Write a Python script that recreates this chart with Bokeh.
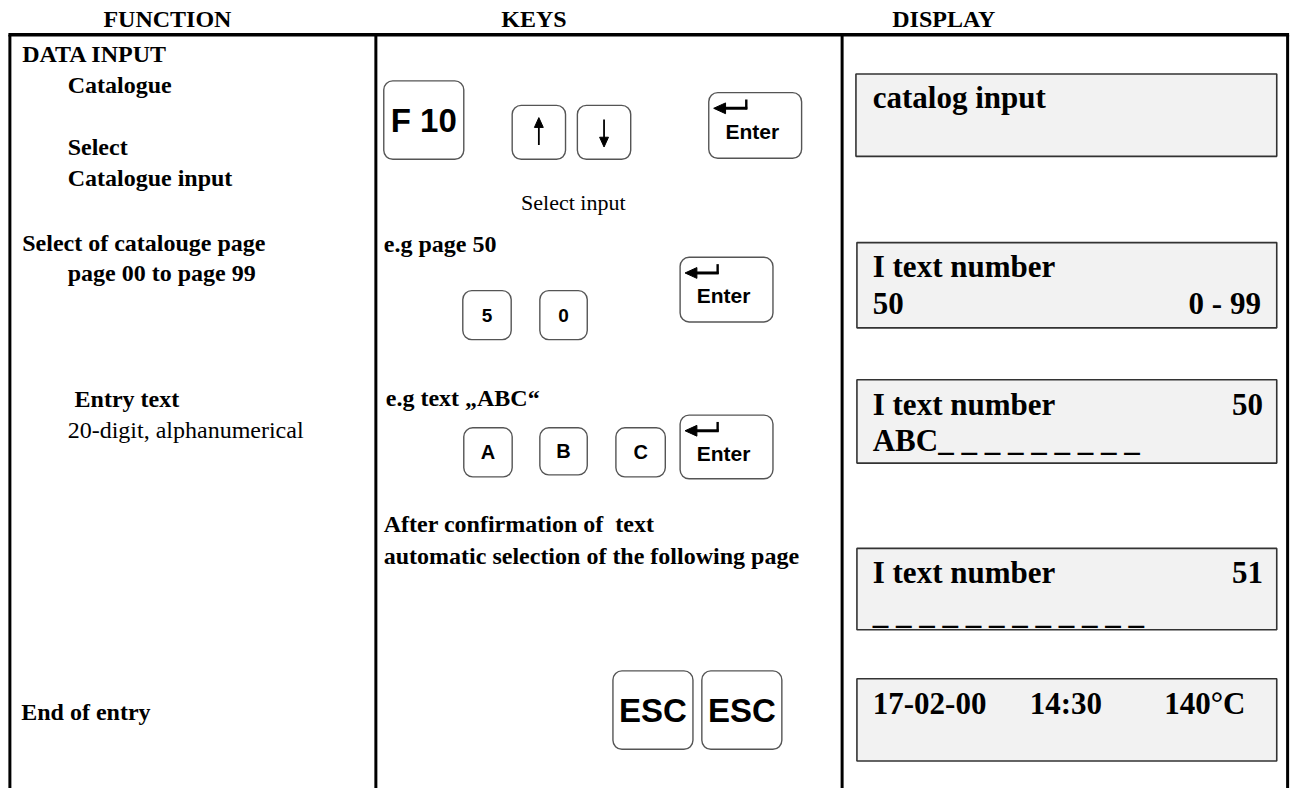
from bokeh.plotting import figure
from bokeh.models import Range1d
from bokeh.embed import file_html
from bokeh.resources import INLINE
from bokeh.core.properties import value

# ---------------- content ----------------
headers = ["FUNCTION", "KEYS", "DISPLAY"]
header_x = [169, 540, 955]

func_labels = ["DATA INPUT", "Catalogue", "Select", "Catalogue input",
               "Select of catalouge page", "page 00 to page 99",
               "Entry text", "End of entry"]
func_x = [22, 68, 68, 68, 22, 68, 75, 21]
func_y = [63, 95, 158, 190, 256, 287, 415, 735]
func_note = ["20-digit, alphanumerical"]
func_note_x = [68]
func_note_y = [447]

key_texts = ["e.g page 50", "e.g text \u201eABC\u201c", "After confirmation of\u00a0 text",
             "automatic selection of the following page"]
key_text_x = [388, 390, 388, 388]
key_text_y = [257, 414, 543, 575]
key_note = ["Select input"]
key_note_x = [527]
key_note_y = [214]

# keys: label, left, right, top, bottom, label font size
keys = [
    ("F 10", 388, 469, 82, 162, 33),
    ("up", 518, 572, 107, 162, 0),
    ("down", 584, 638, 107, 162, 0),
    ("Enter", 717, 811, 94, 161, 21),
    ("5", 468, 517, 296, 346, 19),
    ("0", 546, 594, 296, 346, 19),
    ("Enter", 688, 782, 262, 328, 21),
    ("A", 469, 518, 436, 486, 20),
    ("B", 546, 594, 436, 484, 20),
    ("C", 623, 673, 436, 486, 20),
    ("Enter", 688, 782, 423, 488, 21),
    ("ESC", 620, 701, 684, 764, 33),
    ("ESC", 710, 791, 684, 764, 33),
]

# display boxes: left, right, top, bottom
disp_boxes = [(866, 1292, 75, 159), (867, 1292, 247, 334), (867, 1292, 387, 472),
              (867, 1292, 559, 642), (867, 1292, 692, 776)]
disp_left_text = ["catalog input", "I text number", "50", "I text number",
                  "ABC_ _ _ _ _ _ _ _ _", "I text number", "_ _ _ _ _ _ _ _ _ _ _ _",
                  "17-02-00", "14:30", "140\u00b0C"]
disp_left_x = [883, 883, 883, 883, 883, 883, 883, 883, 1042, 1178]
disp_left_y = [110, 283, 320, 423, 460, 595, 637, 728, 728, 728]
disp_right_text = ["0 - 99", "50", "51"]
disp_right_x = [1276, 1278, 1278]
disp_right_y = [320, 423, 595]

# table lines
col_x = [9.5, 380, 852, 1303]
table_top = 35

# ---------------- figure ----------------
REF_W, REF_H = 1312, 804
W, H = 1296, 788
p = figure(width=W, height=H, x_range=Range1d(0, REF_W), y_range=Range1d(REF_H, 0),
           output_backend="svg", toolbar_location=None, min_border=0,
           x_axis_location=None, y_axis_location=None)
p.grid.visible = False
p.outline_line_color = None
p.background_fill_color = "white"
p.border_fill_color = "white"

SERIF = value("Liberation Serif")
SANS = value("Liberation Sans")
K = 0.36  # baseline correction factor for the svg text renderer


def base(ys, fs):
    return [y - K * fs for y in ys]


# table frame
p.segment(x0=[col_x[0] - 1.5], y0=[table_top], x1=[col_x[-1] + 1.5], y1=[table_top],
          line_color="black", line_width=3.5)
p.segment(x0=col_x, y0=[table_top] * len(col_x), x1=col_x, y1=[REF_H + 20] * len(col_x),
          line_color="black", line_width=3)

# headers
p.text(x=header_x, y=base([28] * 3, 24), text=headers, text_font=SERIF, text_font_style="bold",
       text_font_size="24px", text_align="center", text_baseline="alphabetic", text_color="black")

# function column
p.text(x=func_x, y=base(func_y, 24), text=func_labels, text_font=SERIF, text_font_style="bold",
       text_font_size="24px", text_baseline="alphabetic", text_color="black")
p.text(x=func_note_x, y=base(func_note_y, 24), text=func_note, text_font=SERIF,
       text_font_size="24px", text_baseline="alphabetic", text_color="black")

# keys column text
p.text(x=key_text_x, y=base(key_text_y, 24), text=key_texts, text_font=SERIF, text_font_style="bold",
       text_font_size="24px", text_baseline="alphabetic", text_color="black")
p.text(x=key_note_x, y=base(key_note_y, 22), text=key_note, text_font=SERIF,
       text_font_size="22px", text_baseline="alphabetic", text_color="black")

# key caps
p.quad(left=[k[1] for k in keys], right=[k[2] for k in keys],
       top=[k[3] for k in keys], bottom=[k[4] for k in keys],
       fill_color="white", line_color="#555555", line_width=1.4, border_radius=9)

lab_x, lab_y, lab_t, lab_s = [], [], [], []
ent_x, ent_y = [], []
sh_x0, sh_y0, sh_x1, sh_y1, sh_w = [], [], [], [], []
tri_xs, tri_ys = [], []
for lab, l, r, t, b, fs in keys:
    cx = (l + r) / 2
    cy = (t + b) / 2
    if lab == "Enter":
        ent_x.append(l + 44)
        ent_y.append(t + 47 - K * 21)
        # return arrow
        sh_x0 += [l + 14, l + 38]
        sh_y0 += [t + 16, t + 17]
        sh_x1 += [l + 39, l + 38]
        sh_y1 += [t + 16, t + 7]
        sh_w += [3, 2.4]
        tri_xs.append([l + 5, l + 17, l + 17])
        tri_ys.append([t + 16, t + 10.5, t + 21.5])
    elif lab == "up":
        sh_x0.append(cx); sh_y0.append(cy + 13); sh_x1.append(cx); sh_y1.append(cy - 6)
        sh_w.append(1.8)
        tri_xs.append([cx, cx - 4.5, cx + 4.5])
        tri_ys.append([cy - 15, cy - 5, cy - 5])
    elif lab == "down":
        sh_x0.append(cx); sh_y0.append(cy - 13); sh_x1.append(cx); sh_y1.append(cy + 6)
        sh_w.append(1.8)
        tri_xs.append([cx, cx - 4.5, cx + 4.5])
        tri_ys.append([cy + 15, cy + 5, cy + 5])
    else:
        lab_x.append(cx)
        lab_y.append(cy + 0.36 * fs - K * fs)
        lab_t.append(lab)
        lab_s.append(f"{fs}px")

p.text(x=lab_x, y=lab_y, text=lab_t, text_font=SANS, text_font_style="bold",
       text_font_size=lab_s, text_align="center", text_baseline="alphabetic", text_color="black")
p.text(x=ent_x, y=ent_y, text=["Enter"] * len(ent_x), text_font=SANS, text_font_style="bold",
       text_font_size="21px", text_align="center", text_baseline="alphabetic", text_color="black")
p.segment(x0=sh_x0, y0=sh_y0, x1=sh_x1, y1=sh_y1, line_color="black", line_width=sh_w)
p.patches(xs=tri_xs, ys=tri_ys, fill_color="black", line_color="black", line_width=1)

# display boxes
p.quad(left=[d[0] for d in disp_boxes], right=[d[1] for d in disp_boxes],
       top=[d[2] for d in disp_boxes], bottom=[d[3] for d in disp_boxes],
       fill_color="#f2f2f2", line_color="#333333", line_width=1.6)
p.text(x=disp_left_x, y=base(disp_left_y, 31), text=disp_left_text, text_font=SERIF,
       text_font_style="bold", text_font_size="31px", text_baseline="alphabetic", text_color="black")
p.text(x=disp_right_x, y=base(disp_right_y, 31), text=disp_right_text, text_font=SERIF,
       text_font_style="bold", text_font_size="31px", text_align="right",
       text_baseline="alphabetic", text_color="black")

open("out.html", "w").write(file_html(p, INLINE))
